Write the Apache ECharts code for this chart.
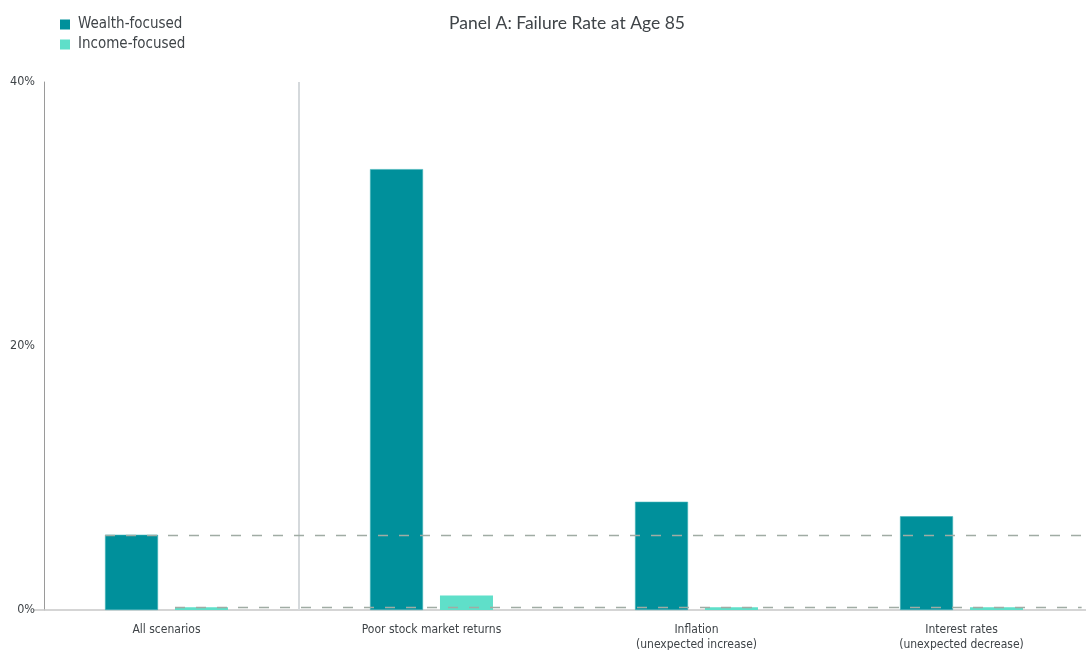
<!DOCTYPE html>
<html>
<head>
<meta charset="utf-8">
<script src="https://cdn.jsdelivr.net/npm/echarts@6/dist/echarts.min.js"></script>
<style>html,body{margin:0;padding:0;background:#fff;}#c{width:1086px;height:650px;}</style>
</head>
<body>
<div id="c"></div>
<script>
const categories = ['All scenarios', 'Poor stock market returns', 'Inflation\n(unexpected increase)', 'Interest rates\n(unexpected decrease)'];
const wealthFocused = [5.7, 33.4, 8.2, 7.1];
const incomeFocused = [0.2, 1.1, 0.2, 0.2];
const yTicks = [0, 20, 40];
const refWealth = 5.7;
const refIncome = 0.2;
const separatorAt = 1; // boundary between "All scenarios" and the stress scenarios

const condensed = '"Liberation Sans Narrow", "DejaVu Sans Condensed", "Roboto", sans-serif';
const dashStyle = { color: '#a0aca4', width: 1.4, type: [10, 11] };

const chart = echarts.init(document.getElementById('c'));
chart.setOption({
  animation: false,
  title: {
    text: 'Panel A: Failure Rate at Age 85',
    left: 562, top: 9, textAlign: 'center',
    textStyle: { fontFamily: 'Lato, "Open Sans", sans-serif', fontSize: 17.5, fontWeight: 'normal', color: '#3f4448' }
  },
  legend: {
    orient: 'vertical', left: 55, top: 12,
    itemWidth: 10, itemHeight: 10, itemGap: 5,
    icon: 'rect',
    itemStyle: { borderWidth: 0 },
    textStyle: { fontFamily: condensed, fontSize: 15, color: '#3f4448', padding: [0, 0, 0, 3] },
    data: ['Wealth-focused', 'Income-focused']
  },
  grid: { left: 34, top: 82, width: 1060, bottom: 40, outerBoundsMode: 'none', containLabel: false },
  xAxis: [
    {
      type: 'category', data: categories,
      axisLine: { lineStyle: { color: '#c8c8c8', width: 1.5 } },
      axisTick: { show: false },
      axisLabel: { fontFamily: condensed, fontSize: 12, color: '#3f4448', margin: 12, lineHeight: 15 },
      splitLine: { show: false }
    },
    {
      type: 'value', min: 0, max: categories.length, show: false
    }
  ],
  yAxis: {
    type: 'value', min: 0, max: 40, interval: 20, offset: -10,
    axisLine: { show: true, lineStyle: { color: '#9a9a9a', width: 1 } },
    axisTick: { show: false },
    splitLine: { show: false },
    axisLabel: {
      fontFamily: condensed, fontSize: 12.5, color: '#3f4448', margin: 9,
      formatter: function (v) { return yTicks.indexOf(v) >= 0 ? v + '%' : ''; }
    }
  },
  series: [
    {
      name: 'separator', type: 'scatter', xAxisIndex: 1, data: [], silent: true,
      markLine: {
        silent: true, symbol: 'none', label: { show: false },
        lineStyle: { color: '#d5d9dc', width: 2, type: 'solid' },
        data: [{ xAxis: separatorAt }]
      }
    },
    {
      name: 'Wealth-focused', type: 'bar', data: wealthFocused,
      barWidth: 53, barGap: '32%',
      itemStyle: { color: '#00909b', borderColor: '#3fb3b9', borderWidth: 0.6 },
      markLine: {
        silent: true, symbol: 'none', label: { show: false },
        lineStyle: dashStyle,
        data: [[{ coord: [0, refWealth], x: 105 }, { x: '99.6%', yAxis: refWealth }]]
      }
    },
    {
      name: 'Income-focused', type: 'bar', data: incomeFocused,
      barWidth: 53,
      itemStyle: { color: '#5fdfc9' },
      markLine: {
        silent: true, symbol: 'none', label: { show: false },
        lineStyle: dashStyle,
        data: [[{ coord: [0, refIncome], x: 175 }, { x: '99.6%', yAxis: refIncome }]]
      }
    }
  ]
});
</script>
</body>
</html>
